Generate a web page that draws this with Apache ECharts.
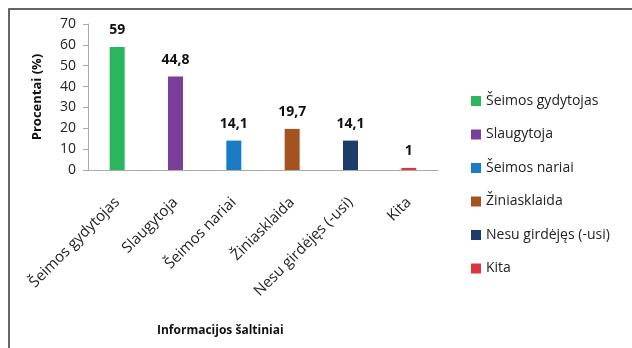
<!DOCTYPE html>
<html><head><meta charset="utf-8">
<script src="https://cdn.jsdelivr.net/npm/echarts@6/dist/echarts.min.js"></script>
<style>html,body{margin:0;padding:0;background:#fff}#c{width:632px;height:348px}</style>
</head><body><div id="c"></div>
<script>
var categories = ['Šeimos gydytojas','Slaugytoja','Šeimos nariai','Žiniasklaida','Nesu girdėjęs (-usi)','Kita'];
var values = [59, 44.8, 14.1, 19.7, 14.1, 1];
var valueLabels = ['59','44,8','14,1','19,7','14,1','1'];
var colors = ['#2bb55c','#7a3f9b','#1b7cc6','#a3531f','#1c3d6a','#d9363e'];
var yTicks = [0,10,20,30,40,50,60,70];

var font = '"Open Sans", "Noto Sans", sans-serif';
var series = categories.map(function(name, i){
  var d = categories.map(function(_, j){ return j === i ? values[i] : null; });
  return {
    name: name, type: 'bar', data: d, barWidth: 15, barGap: '-100%',
    itemStyle: {color: colors[i]},
    label: {show: true, position: 'top', distance: 10, fontWeight: 'bold', fontSize: 14, color: '#111', fontFamily: font,
      formatter: function(){ return valueLabels[i]; }}
  };
});
var chart = echarts.init(document.getElementById('c'));
chart.setOption({
  animation: false,
  grid: {left: 88, right: 194, top: 24, bottom: 178},
  legend: {
    orient: 'vertical', left: 466, top: 89, itemWidth: 10, itemHeight: 10, itemGap: 19.5,
    icon: 'rect',
    textStyle: {fontSize: 14, color: '#222', fontFamily: font},
    data: categories
  },
  xAxis: {
    type: 'category', data: categories,
    axisLine: {lineStyle: {color: '#aaa'}},
    axisTick: {show: false},
    axisLabel: {rotate: 45, interval: 0, fontSize: 15, color: '#222', fontFamily: font, margin: 30}
  },
  yAxis: {
    type: 'value', min: 0, max: 70, interval: 10,
    name: 'Procentai (%)', nameLocation: 'middle', nameGap: 44, nameRotate: 90,
    nameTextStyle: {fontWeight: 'bold', fontSize: 13, color: '#111', fontFamily: font},
    axisLine: {show: true, lineStyle: {color: '#aaa'}},
    axisTick: {show: true, inside: false, length: 5, lineStyle: {color: '#aaa'}},
    splitLine: {show: false},
    axisLabel: {fontSize: 14, color: '#222', fontFamily: font, margin: 12,
      formatter: function(v){ return yTicks.indexOf(v) >= 0 ? String(v) : ''; }}
  },
  graphic: [
    {type: 'polyline', shape: {points: [[9,348],[9,9],[632,9]]}, style: {stroke: '#333', lineWidth: 1.5, fill: null}},
    {type: 'text', left: 157, top: 325, style: {text: 'Informacijos šaltiniai', fontWeight: 'bold', fontSize: 12, fill: '#111', fontFamily: font}}
  ],
  series: series
});
</script></body></html>
